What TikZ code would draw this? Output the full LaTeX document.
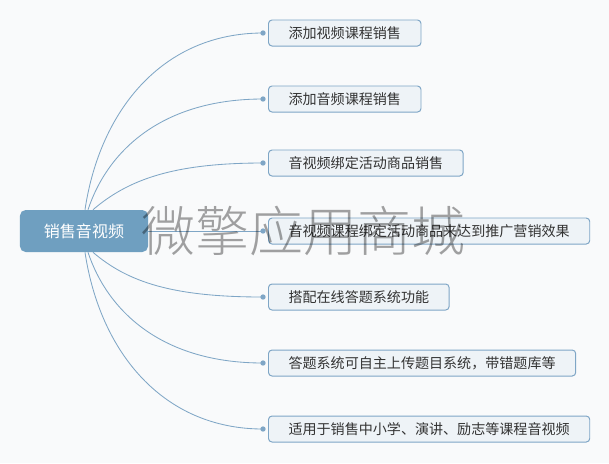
\documentclass[tikz,border=0pt]{standalone}
\usepackage{fontspec}
\setmainfont{Noto Sans CJK SC}
\IfFontExistsTF{Noto Sans CJK SC Light}
    {\newfontfamily\stampfont{Noto Sans CJK SC Light}}
    {\newfontfamily\stampfont{Noto Sans CJK SC}}
\usetikzlibrary{positioning, calc}
\definecolor{pagebg}{HTML}{F9FAFB}
\definecolor{rootbg}{HTML}{6F9FC0}
\definecolor{leafbg}{HTML}{EEF3F7}
\definecolor{leafedge}{HTML}{7FA6C6}
\definecolor{branchc}{HTML}{7FA6C6}
\definecolor{leaftext}{HTML}{333333}

\begin{document}
\begin{tikzpicture}[
    x=0.025cm, y=-0.025cm,
    rootbox/.style={
        rectangle, rounded corners=4pt, fill=rootbg, text=white,
        minimum width=3.2cm, minimum height=1.05cm,
        font=\fontsize{11.4}{13}\selectfont
    },
    leaf/.style={
        rectangle, rounded corners=2.5pt, draw=leafedge, fill=leafbg,
        line width=0.7pt, text=leaftext, anchor=west,
        minimum height=0.65cm, inner xsep=0.5cm, inner ysep=0pt,
        font=\fontsize{10}{12}\selectfont
    },
    dot/.style={circle, fill=branchc, inner sep=0pt, minimum size=3.8pt},
    branch/.style={draw=branchc, line width=0.6pt},
    watermark/.style={text=black, opacity=0.36, font=\stampfont\fontsize{38.4}{40}\selectfont},
]

%% page (609 x 463 px, 1px = 0.025cm)
\fill[pagebg] (0,0) rectangle (609,463);
\useasboundingbox (0,0) rectangle (609,463);

%% ============ ROOT ============
\node[rootbox] (sale) at (84,231) {销售音视频};

%% ============ LEAVES ============
\node[leaf] (addvideo) at (268, 33)  {添加视频课程销售};
\node[leaf] (addaudio) at (268, 99)  {添加音频课程销售};
\node[leaf] (bundle)   at (268,163)  {音视频绑定活动商品销售};
\node[leaf] (promo)    at (268,231)  {音视频课程绑定活动商品来达到推广营销效果};
\node[leaf] (quiz)     at (268,297)  {搭配在线答题系统功能};
\node[leaf] (quizbank) at (268,363)  {答题系统可自主上传题目系统，带错题库等};
\node[leaf] (scope)    at (268,429)  {适用于销售中小学、演讲、励志等课程音视频};

% end dots, just left of each leaf
\foreach \n in {addvideo,addaudio,bundle,promo,quiz,quizbank,scope}
    \node[dot] (\n-dot) at ($(\n.west)+(-5,0)$) {};

%% ============ BRANCHES ============
% upper fan: leave the root top edge, end flat at the dot
\draw[branch] ($(sale.north)+(1,0)$) .. controls +(15,-100) and +(-100,0) .. (addvideo-dot.center);
\draw[branch] ($(sale.north)+(4,0)$) .. controls +(20,-60) and +(-100,0) .. (addaudio-dot.center);
\draw[branch] ($(sale.north)+(9,0)$) .. controls +(35,-30) and +(-90,0) .. (bundle-dot.center);

% middle: straight
\draw[branch] (sale.east) -- (promo-dot.center);

% lower fan: mirror of the upper one
\draw[branch] ($(sale.south)+(9,0)$) .. controls +(35,30) and +(-90,0) .. (quiz-dot.center);
\draw[branch] ($(sale.south)+(4,0)$) .. controls +(20,60) and +(-100,0) .. (quizbank-dot.center);
\draw[branch] ($(sale.south)+(1,0)$) .. controls +(15,100) and +(-100,0) .. (scope-dot.center);

%% ============ WATERMARK ============
\node[watermark] (stamp) at (303,231) {微擎应用商城};

\end{tikzpicture}
\end{document}
